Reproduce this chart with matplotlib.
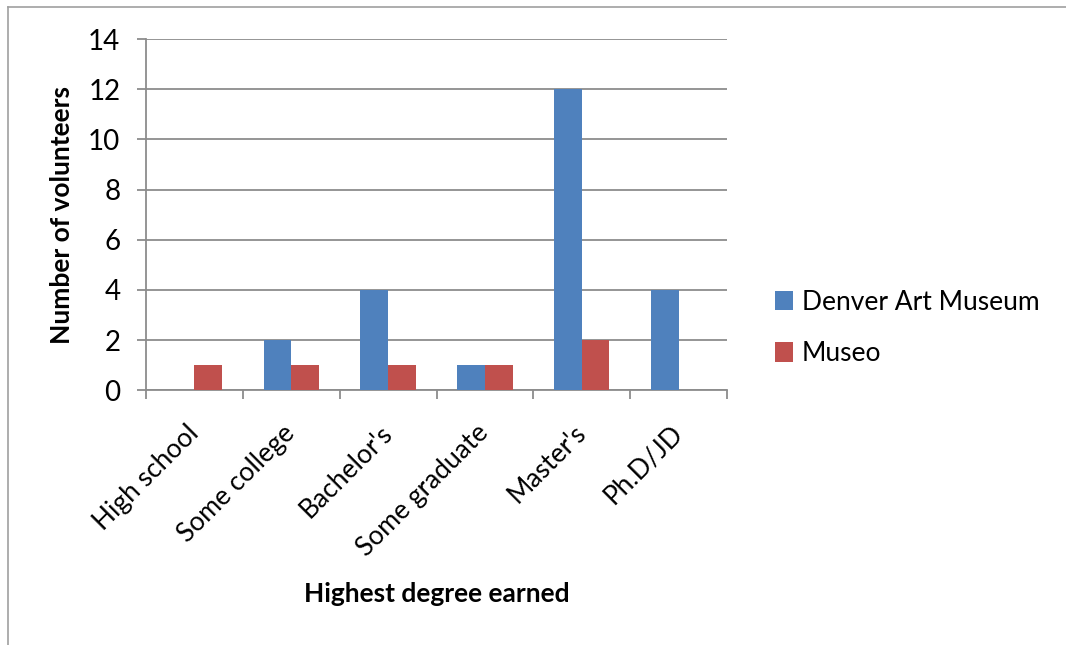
import numpy as np
import matplotlib.pyplot as plt
from matplotlib.lines import Line2D

degrees = ['High school', 'Some college', "Bachelor's", 'Some graduate', "Master's", 'Ph.D/JD']
denver = [0, 2, 4, 1, 12, 4]
museo = [1, 1, 1, 1, 2, 0]
series_names = ['Denver Art Museum', 'Museo']

plt.rcParams['font.family'] = ['Lato', 'DejaVu Sans']

fig = plt.figure(figsize=(10.66, 6.45), dpi=100)
ax = fig.add_axes([0.137, 0.395, 0.545, 0.5445])

x = np.arange(len(degrees))
w = 0.286
b1 = ax.bar(x - w / 2, denver, w, color='#4F81BD', label=series_names[0], zorder=3)
b2 = ax.bar(x + w / 2, museo, w, color='#C0504D', label=series_names[1], zorder=3)

gray = '#8c8c8c'
ax.set_xlim(-0.5, len(degrees) - 0.5)
ax.set_ylim(0, 14)
ax.set_yticks(range(0, 15, 2))
ax.yaxis.grid(True, color=gray, linewidth=1.3, zorder=0)
ax.tick_params(axis='y', labelsize=20, length=6.5, color=gray, width=1.3, pad=12)

# category ticks sit on the boundaries between groups
ax.set_xticks(np.arange(len(degrees) + 1) - 0.5)
ax.set_xticklabels([])
ax.tick_params(axis='x', which='major', length=6.5, color=gray, width=1.3)
ax.set_xticks(x, minor=True)
ax.set_xticklabels(degrees, minor=True, rotation=45, ha='right', va='center',
                   rotation_mode='anchor', fontsize=19)
ax.tick_params(axis='x', which='minor', length=0, pad=28)

for s in ['top', 'right']:
    ax.spines[s].set_visible(False)
for s in ['left', 'bottom']:
    ax.spines[s].set_color(gray)
    ax.spines[s].set_linewidth(1.3)

ax.set_ylabel('Number of volunteers', fontsize=19, fontweight='bold', labelpad=10)
fig.text(0.41, 0.079, 'Highest degree earned', fontsize=19, fontweight='bold',
         ha='center', va='center')

fig.legend(handles=[b1, b2], loc='center left', bbox_to_anchor=(0.727, 0.4915),
           frameon=False, fontsize=19, handlelength=0.68, handleheight=0.76,
           handletextpad=0.34, labelspacing=1.0, borderpad=0, borderaxespad=0)

# outer chart frame (top and left edges)
fig.add_artist(Line2D([8 / 1066, 1], [1 - 7 / 645] * 2, transform=fig.transFigure,
                      color='#a0a0a0', linewidth=1.2))
fig.add_artist(Line2D([8 / 1066] * 2, [0, 1 - 7 / 645], transform=fig.transFigure,
                      color='#a0a0a0', linewidth=1.2))

fig.savefig('out.png', dpi=100)
